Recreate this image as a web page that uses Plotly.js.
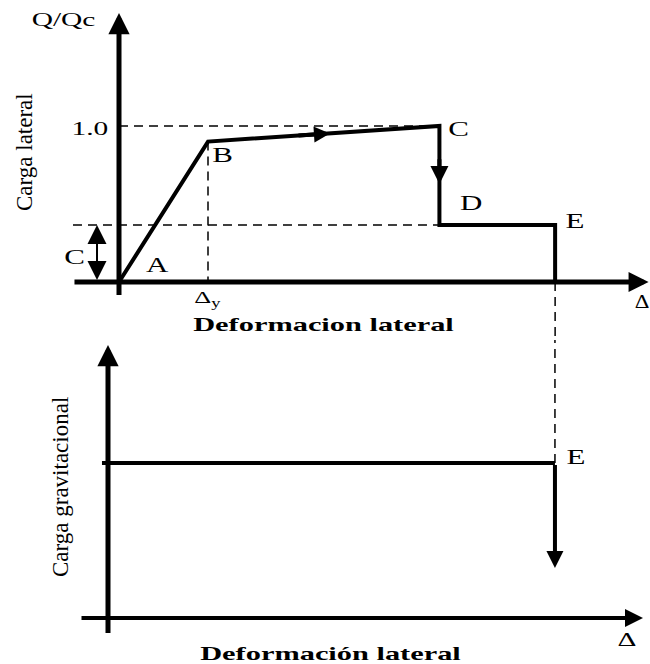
<!DOCTYPE html>
<html><head><meta charset="utf-8">
<script src="https://cdn.plot.ly/plotly-3.0.1.min.js"></script>
<style>html,body{margin:0;padding:0;background:#fff;} #chart{width:650px;height:664px;}</style>
</head><body><div id="chart"></div>
<script>
// ---------- DATA ----------
// Top chart: lateral load (Q/Qc) vs lateral deformation (in units of Δy)
const pointNames = ['A', 'B', 'C', 'D', 'E', 'F'];
const curveX = [0, 1, 3.6, 3.6, 4.9, 4.9];
const curveY = [0, 0.90, 1.0, 0.365, 0.365, 0];
const peakLevel = 1.0;        // "1.0"
const residualLevel = 0.365;  // level C
const yieldDelta = 1;         // Δy
const collapseDelta = 4.9;    // point E
// Bottom chart: gravity load vs lateral deformation
const gravX = [0, 4.9];
const gravY = [1, 1];
const gravDropEnd = 0.323;
// Arrows along the path
const arrowBC = {tailX: 2.0, tipX: 2.37};
const arrowCD = {tailY: 0.80, tipY: 0.628};
// Texts
const yTitleTop = 'Carga lateral';
const xTitleTop = 'Deformacion lateral';
const yTitleBottom = 'Carga gravitacional';
const xTitleBottom = 'Deformación lateral';
const yUnitTop = 'Q/Qc';
const peakLabel = '1.0';
const yieldLabel = 'Δ<sub>y</sub>';
const deltaLabel = 'Δ';
const residualLabel = 'C';

// ---------- LAYOUT CONSTANTS ----------
const FONT = 'Liberation Serif';
const topX = [-1.337, 5.966], topY = [-0.3718, 1.8077];
const botX = [-1.184, 5.942], botY = [-0.2968, 1.7935];
const topAxisX = [-0.517, 5.95], topAxisY = [-0.096, 1.724];
const botAxisX = [-0.307, 5.865], botAxisY = [-0.11, 1.761];
const doubleArrowX = -0.247;
const gravLineStart = -0.066;

function lineY(x) { // interpolate on segment B-C
  const t = (x - curveX[1]) / (curveX[2] - curveX[1]);
  return curveY[1] + t * (curveY[2] - curveY[1]);
}

const traces = [];
const blk = '#000';
const dash = {color: blk, width: 1.5, dash: '9px,6px'};
traces.push({x: [0, curveX[2]], y: [peakLevel, peakLevel], xaxis: 'x', yaxis: 'y', mode: 'lines', line: dash});
traces.push({x: [topAxisX[0], curveX[3]], y: [residualLevel, residualLevel], xaxis: 'x', yaxis: 'y', mode: 'lines', line: dash});
traces.push({x: [yieldDelta, yieldDelta], y: [curveY[1], 0], xaxis: 'x', yaxis: 'y', mode: 'lines', line: dash});
traces.push({x: [collapseDelta, collapseDelta], y: [0, -1], xaxis: 'x', yaxis: 'y', mode: 'lines', line: dash});
traces.push({x: [collapseDelta, collapseDelta], y: [gravY[1], 3], xaxis: 'x2', yaxis: 'y2', mode: 'lines', line: dash});
traces.push({x: curveX, y: curveY, xaxis: 'x', yaxis: 'y', mode: 'lines', line: {color: blk, width: 4}});
traces.push({x: [gravLineStart].concat(gravX.slice(1)), y: gravY, xaxis: 'x2', yaxis: 'y2', mode: 'lines', line: {color: blk, width: 4}});

function arrow(xr, yr, x0, y0, x1, y1, w, size, side) {
  return {xref: xr, yref: yr, axref: xr, ayref: yr, x: x1, y: y1, ax: x0, ay: y0,
    showarrow: true, arrowhead: 2, arrowwidth: w, arrowsize: size, arrowcolor: blk,
    arrowside: side || 'end', text: ' ', font: {size: 1}};
}
function label(text, xr, yr, x, y, xs, ys, size, opts) {
  opts = opts || {};
  const a = {text: text, xref: xr, yref: yr, x: x, y: y, xshift: xs, yshift: ys, showarrow: false,
    xanchor: opts.xanchor || 'center', yanchor: 'middle', textangle: opts.angle || 0,
    font: {family: FONT, size: size, color: blk, weight: opts.bold ? 'bold' : 'normal'}};
  a._s = opts.stretch === undefined ? 1.55 : opts.stretch;
  return a;
}

const ann = [];
ann.push(arrow('x', 'y', 0, topAxisY[0], 0, topAxisY[1], 5, 0.85));
ann.push(arrow('x', 'y', topAxisX[0], 0, topAxisX[1], 0, 5, 0.8));
ann.push(arrow('x2', 'y2', 0, botAxisY[0], 0, botAxisY[1], 5, 0.85));
ann.push(arrow('x2', 'y2', botAxisX[0], 0, botAxisX[1], 0, 4, 0.9));
ann.push(arrow('x', 'y', arrowBC.tailX, lineY(arrowBC.tailX), arrowBC.tipX, lineY(arrowBC.tipX), 4, 0.8));
ann.push(arrow('x', 'y', curveX[2], arrowCD.tailY, curveX[2], arrowCD.tipY, 4, 0.9));
ann.push(arrow('x2', 'y2', collapseDelta, gravY[1], collapseDelta, gravDropEnd, 4, 0.85));
ann.push(arrow('x', 'y', doubleArrowX, 0, doubleArrowX, residualLevel, 2, 1.9, 'end+start'));

ann.push(label(pointNames[0], 'x', 'y', curveX[0], curveY[0], 38, 17, 20));
ann.push(label(pointNames[1], 'x', 'y', curveX[1], curveY[1], 14, -13, 20));
ann.push(label(pointNames[2], 'x', 'y', curveX[2], curveY[2], 19, -3, 20));
ann.push(label(pointNames[3], 'x', 'y', curveX[3], curveY[3], 32, 22, 20));
ann.push(label(pointNames[4], 'x', 'y', curveX[4], curveY[4], 20, 4, 20));
ann.push(label(residualLabel, 'x', 'y', doubleArrowX, residualLevel / 2, -23, -3, 20));
ann.push(label(peakLabel, 'x', 'y', 0, peakLevel, -29, -2, 19));
ann.push(label(yUnitTop, 'x', 'y', 0, topAxisY[1], -56, -6, 19));
ann.push(label(yieldLabel, 'x', 'y', yieldDelta, 0, -1, -17, 17));
ann.push(label(deltaLabel, 'x', 'y', topAxisX[1], 0, -7, -19, 19, {stretch: 1.2}));
ann.push(label(xTitleTop, 'paper', 'paper', 323 / 650, 1 - 324 / 664, 0, 0, 19, {bold: true, stretch: 1.6}));
ann.push(label(yTitleTop, 'paper', 'paper', 25 / 650, 1 - 152 / 664, 0, 0, 23, {angle: -90, stretch: 1}));
ann.push(label(yTitleBottom, 'paper', 'paper', 60 / 650, 1 - 487 / 664, 0, 0, 23, {angle: -90, stretch: 1}));
ann.push(label(xTitleBottom, 'paper', 'paper', 330 / 650, 1 - 653 / 664, 0, 0, 19, {bold: true, stretch: 1.6}));
ann.push(label(pointNames[4], 'x2', 'y2', collapseDelta, gravY[1], 21, 6, 20));
ann.push(label(deltaLabel, 'x2', 'y2', botAxisX[1], 0, -16, -21, 19));

const stretches = ann.map(a => { const s = a._s; delete a._s; return s; });

const hid = {visible: false, fixedrange: true};
const layout = {
  width: 650, height: 664, margin: {l: 0, r: 0, t: 0, b: 0},
  paper_bgcolor: '#fff', plot_bgcolor: '#fff', showlegend: false,
  xaxis: Object.assign({range: topX, domain: [0, 1], anchor: 'y'}, hid),
  yaxis: Object.assign({range: topY, domain: [1 - 340 / 664, 1], anchor: 'x'}, hid),
  xaxis2: Object.assign({range: botX, domain: [0, 1], anchor: 'y2'}, hid),
  yaxis2: Object.assign({range: botY, domain: [0, 1 - 340 / 664], anchor: 'x2'}, hid),
  annotations: ann
};
traces.forEach(t => { t.hoverinfo = 'skip'; t.showlegend = false; });

Plotly.newPlot('chart', traces, layout, {staticPlot: true}).then(() => {
  document.querySelectorAll('g.annotation').forEach(g => {
    const i = +g.getAttribute('data-index');
    const s = stretches[i];
    if (s && s !== 1) {
      const t = g.querySelector('text.annotation-text');
      if (t) {
        t.style.transformBox = 'fill-box';
        t.style.transformOrigin = 'center';
        t.style.transform = 'scaleX(' + s + ')';
      }
    }
  });
});
</script></body></html>
